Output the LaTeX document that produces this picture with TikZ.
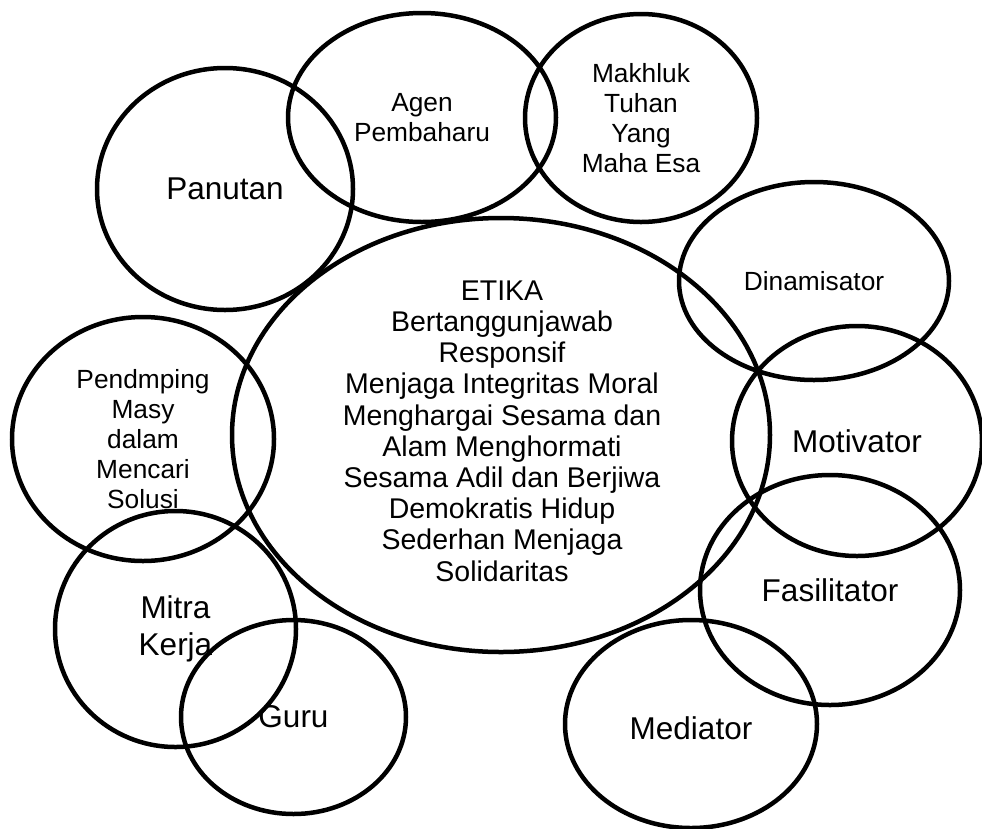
\documentclass[tikz,border=0pt]{standalone}
\usepackage{fontspec}
\setmainfont{Liberation Sans}
\usetikzlibrary{shapes.geometric}
\tikzset{
  bub/.style={draw, line width=4.5pt, ellipse, inner sep=0pt, align=center},
  small/.style={font=\fontsize{26.3}{30}\selectfont},
  big/.style={font=\fontsize{31.5}{37}\selectfont},
  mid/.style={font=\fontsize{28.5}{31.2}\selectfont}
}
\begin{document}
\begin{tikzpicture}[x=1pt,y=-1pt]
\useasboundingbox (0,0) rectangle (982,828);
\node[bub, minimum width=538pt, minimum height=434pt] (etika) at (501,435) {};
\node[mid, align=center] (etikatext) at (502,431) {ETIKA\\Bertanggunjawab\\Responsif\\Menjaga Integritas Moral\\Menghargai Sesama dan\\Alam Menghormati\\Sesama Adil dan Berjiwa\\Demokratis Hidup\\Sederhan Menjaga\\Solidaritas};
\node[bub, big, minimum width=256pt, minimum height=242pt] (panutan) at (225,189) {Panutan};
\node[bub, small, minimum width=268pt, minimum height=209pt] (agen) at (422,117.5) {Agen\\Pembaharu};
\node[bub, small, minimum width=232pt, minimum height=208pt] (makhluk) at (641,118) {Makhluk\\Tuhan\\Yang\\Maha Esa};
\node[bub, small, minimum width=270pt, minimum height=198pt] (dinamis) at (814,281) {Dinamisator};
\node[bub, big, minimum width=250pt, minimum height=230pt] (motiv) at (857,441) {Motivator};
\node[bub, big, minimum width=260pt, minimum height=230pt] (fasil) at (830,590) {Fasilitator};
\node[bub, minimum width=252pt, minimum height=208pt] (medi) at (691,724) {};
\node[big] (meditext) at (691,728) {Mediator};
\node[bub, small, minimum width=262pt, minimum height=244pt] (pendamping) at (143,439) {Pendmping\\Masy\\dalam\\Mencari\\Solusi};
\node[bub, big, minimum width=241pt, minimum height=236pt] (mitra) at (175.5,629) {Mitra\\Kerja};
\node[bub, big, minimum width=225pt, minimum height=194pt] (guru) at (293.5,717) {Guru};
\end{tikzpicture}
\end{document}
